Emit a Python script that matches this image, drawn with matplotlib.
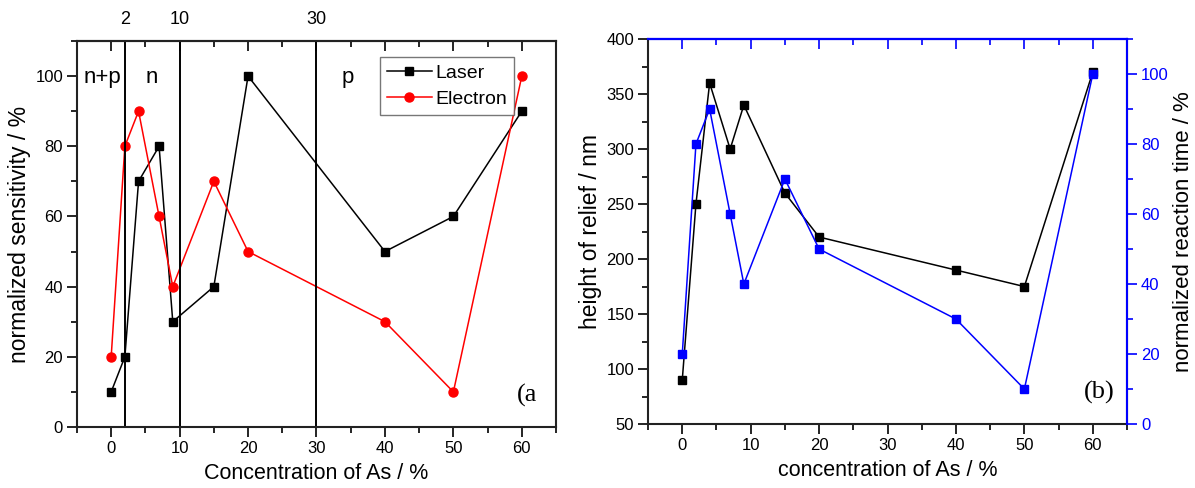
import matplotlib
matplotlib.use("Agg")
import matplotlib.pyplot as plt
from matplotlib.ticker import MultipleLocator, FixedLocator, NullFormatter

plt.rcParams['font.family'] = ['Liberation Sans', 'DejaVu Sans']

# ---- data ----
conc = [0, 2, 4, 7, 9, 15, 20, 40, 50, 60]
laser_sens = [10, 20, 70, 80, 30, 40, 100, 50, 60, 90]
electron_sens = [20, 80, 90, 60, 40, 70, 50, 30, 10, 100]
relief_height = [90, 250, 360, 300, 340, 260, 220, 190, 175, 370]
reaction_time = [20, 80, 90, 60, 40, 70, 50, 30, 10, 100]
boundaries = [2, 10, 30]
regions = ["n+p", "n", "p"]
region_x = [-1.25, 6.0, 34.5]

fig = plt.figure(figsize=(11.95, 4.88), dpi=100)

TICK_FS = 12
XLABEL_FS = 15.5
YLABEL_FS = 16.5
LW = 1.1
SPW = 1.5

def style_ticks(a, color=None):
    kw = dict(which='both', direction='out', labelsize=TICK_FS, width=1.2, pad=3)
    if color:
        kw.update(colors=color, labelcolor=color)
    a.tick_params(**kw)
    a.tick_params(which='major', length=7)
    a.tick_params(which='minor', length=4)

# ================= panel (a) =================
ax = fig.add_axes([0.0644, 0.125, 0.4009, 0.791])
ax.plot(conc, laser_sens, '-s', color='black', lw=LW, ms=6, label='Laser')
ax.plot(conc, electron_sens, '-o', color='red', mfc='red', mec='red', lw=LW, ms=6.5, label='Electron')
for b in boundaries:
    ax.axvline(b, color='black', lw=1.4)
ax.set_xlim(-5, 65)
ax.set_ylim(0, 110)
ax.xaxis.set_major_locator(MultipleLocator(10))
ax.xaxis.set_minor_locator(MultipleLocator(5))
ax.yaxis.set_major_locator(FixedLocator([0, 20, 40, 60, 80, 100]))
ax.yaxis.set_minor_locator(MultipleLocator(10))
style_ticks(ax)
ax.set_xlabel('Concentration of As / %', fontsize=XLABEL_FS, labelpad=5)
ax.set_ylabel('normalized sensitivity / %', fontsize=YLABEL_FS, labelpad=3)
for s in ax.spines.values():
    s.set_linewidth(SPW)
    s.set_color('#222222')

# top inward ticks
topa = ax.secondary_xaxis('top')
topa.spines['top'].set_linewidth(SPW)
topa.xaxis.set_major_locator(MultipleLocator(10))
topa.xaxis.set_minor_locator(MultipleLocator(5))
topa.xaxis.set_major_formatter(NullFormatter())
topa.tick_params(which='both', direction='in', width=1.2)
topa.tick_params(which='major', length=7)
topa.tick_params(which='minor', length=4)
# top labels at boundaries
topb = ax.secondary_xaxis('top')
topb.spines['top'].set_visible(False)
topb.xaxis.set_major_locator(FixedLocator(boundaries))
topb.set_xticklabels([str(b) for b in boundaries])
topb.tick_params(length=0, labelsize=TICK_FS + 1, pad=9)

for t, xx in zip(regions, region_x):
    ax.text(xx, 99.5, t, fontsize=16, ha='center', va='center')
ax.text(59.3, 9.1, '(a', fontsize=19, family='Liberation Serif', ha='left', va='center')

leg = ax.legend(loc='upper left', bbox_to_anchor=(0.633, 0.958), borderaxespad=0,
                fontsize=14, frameon=True, fancybox=False, edgecolor='#555555',
                handlelength=2.3, handletextpad=0.2, borderpad=0.35, labelspacing=0.45)
leg.get_frame().set_linewidth(1.0)

# ================= panel (b) =================
bx = fig.add_axes([0.5423, 0.131, 0.4008, 0.789])
bx.plot(conc, relief_height, '-s', color='black', lw=LW, ms=5.8)
bx.set_xlim(-5, 65)
bx.set_ylim(50, 400)
bx.xaxis.set_major_locator(MultipleLocator(10))
bx.xaxis.set_minor_locator(MultipleLocator(5))
bx.yaxis.set_major_locator(MultipleLocator(50))
bx.yaxis.set_minor_locator(MultipleLocator(25))
style_ticks(bx)
bx.set_xlabel('concentration of As / %', fontsize=XLABEL_FS, labelpad=5)
bx.set_ylabel('height of relief / nm', fontsize=YLABEL_FS, labelpad=3)
for s in bx.spines.values():
    s.set_linewidth(SPW)
    s.set_color('#222222')
bx.spines['top'].set_color('blue')

br = bx.twinx()
br.plot(conc, reaction_time, '-s', color='blue', lw=LW, ms=5.8)
br.set_ylim(0, 110)
br.yaxis.set_major_locator(FixedLocator([0, 20, 40, 60, 80, 100]))
br.yaxis.set_minor_locator(MultipleLocator(10))
style_ticks(br, color='blue')
br.set_ylabel('normalized reaction time / %', fontsize=16, color='black', labelpad=3)
for s in br.spines.values():
    s.set_linewidth(SPW)
br.spines['right'].set_color('blue')
br.spines['top'].set_color('blue')
br.spines['left'].set_visible(False)
br.spines['bottom'].set_visible(False)

topc = bx.secondary_xaxis('top')
topc.spines['top'].set_color('blue')
topc.spines['top'].set_linewidth(SPW)
topc.xaxis.set_major_locator(MultipleLocator(10))
topc.xaxis.set_minor_locator(MultipleLocator(5))
topc.xaxis.set_major_formatter(NullFormatter())
topc.tick_params(which='both', direction='in', width=1.2, colors='blue')
topc.tick_params(which='major', length=7)
topc.tick_params(which='minor', length=4)

br.text(60.9, 9.1, '(b)', fontsize=19, family='Liberation Serif', ha='center', va='center')

fig.savefig('out.png', dpi=100)
